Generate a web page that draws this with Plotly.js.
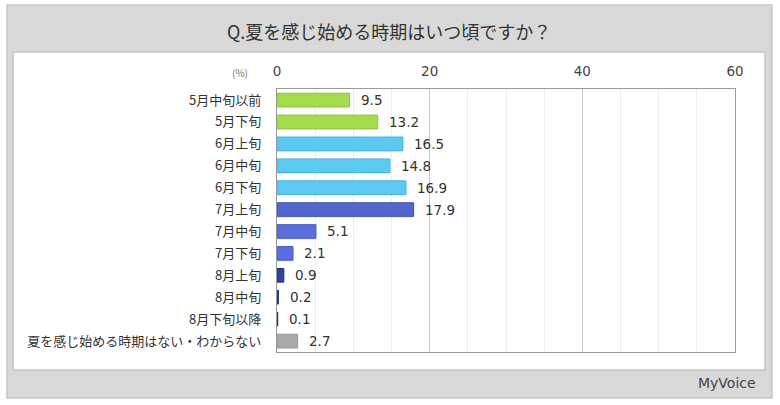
<!DOCTYPE html>
<html>
<head>
<meta charset="utf-8">
<script src="https://cdn.plot.ly/plotly-3.0.1.min.js"></script>
<style>html,body{margin:0;padding:0;background:#fff;}#chart{width:780px;height:405px;}</style>
</head>
<body>
<div id="chart"></div>
<script>
const categories = ["5月中旬以前","5月下旬","6月上旬","6月中旬","6月下旬","7月上旬","7月中旬","7月下旬","8月上旬","8月中旬","8月下旬以降","夏を感じ始める時期はない・わからない"];
const values = [9.5, 13.2, 16.5, 14.8, 16.9, 17.9, 5.1, 2.1, 0.9, 0.2, 0.1, 2.7];
const barColors = ["#a5dc4c","#a5dc4c","#5ec9f0","#5ec9f0","#5ec9f0","#5467cf","#5a6fdb","#5a6fdb","#33409c","#33409c","#33409c","#a9a9a9"];
const lineColors = ["#8cc63f","#8cc63f","#45b5e0","#45b5e0","#45b5e0","#3f50b0","#4358c4","#4358c4","#27337f","#27337f","#27337f","#979797"];
const xTicks = [0, 20, 40, 60];
const titleText = "Q.夏を感じ始める時期はいつ頃ですか？";
const unitText = "(%)";

const W = 780, H = 405;
const L = 277, R = 735, T = 89, B = 352;
const px = v => (v - L) / (R - L);
const py = v => (B - v) / (B - T);
const FONT = "Noto Sans CJK JP, Noto Sans, sans-serif";
const NUMFONT = "DejaVu Sans, Noto Sans, sans-serif";

const shadow = {
  type: "bar", orientation: "h", x: values, y: categories,
  marker: {color: "rgba(120,120,120,0.22)"},
  width: 0.62, offset: -0.25, hoverinfo: "skip", showlegend: false
};
const bars = {
  type: "bar", orientation: "h", x: values, y: categories,
  marker: {color: barColors, line: {color: lineColors, width: 1}},
  width: 0.62, hoverinfo: "skip", showlegend: false
};

const annotations = values.map((v, i) => ({
  x: v, y: categories[i], xref: "x", yref: "y",
  text: v.toFixed(1), showarrow: false, xanchor: "left", xshift: 9,
  font: {family: NUMFONT, size: 13.5, color: "#333"}
}));
annotations.push({
  x: px(389), y: py(31), xref: "paper", yref: "paper",
  text: titleText, showarrow: false, xanchor: "center", yanchor: "middle",
  font: {family: FONT, size: 18, color: "#333"}
});
annotations.push({
  x: px(250), y: py(72), xref: "paper", yref: "paper",
  text: unitText, showarrow: false, xanchor: "right", yanchor: "middle",
  font: {family: FONT, size: 10, color: "#777"}
});
annotations.push({
  x: px(758), y: py(383), xref: "paper", yref: "paper",
  text: "MyVoice", showarrow: false, xanchor: "right", yanchor: "middle",
  font: {family: "DejaVu Sans, sans-serif", size: 14, color: "#444"}
});

const shapes = [
  {type: "rect", xref: "paper", yref: "paper", x0: px(7), x1: px(772), y0: py(5), y1: py(398),
   fillcolor: "#d9d9d9", line: {color: "#c6c6c6", width: 1.5}, layer: "below"},
  {type: "rect", xref: "paper", yref: "paper", x0: px(13), x1: px(765), y0: py(52), y1: py(370),
   fillcolor: "#ffffff", line: {color: "#c4c4c4", width: 1.5}, layer: "below"}
];

const layout = {
  width: W, height: H,
  margin: {l: L, r: W - R, t: T, b: H - B, pad: 0},
  paper_bgcolor: "#ffffff", plot_bgcolor: "rgba(0,0,0,0)",
  barmode: "overlay", bargap: 0.38,
  font: {family: FONT, color: "#333"},
  xaxis: {
    range: [0, 60], side: "top", tickvals: xTicks, ticktext: xTicks.map(String),
    tickfont: {family: NUMFONT, size: 13.5, color: "#444"},
    showgrid: true, gridcolor: "#c8c8c8", gridwidth: 1,
    minor: {dtick: 5, showgrid: true, gridcolor: "#ececec", gridwidth: 1},
    showline: true, linecolor: "#9a9a9a", linewidth: 1.2, mirror: true,
    zeroline: false, ticks: "outside", ticklen: 6, tickcolor: "rgba(0,0,0,0)",
    fixedrange: true
  },
  yaxis: {
    type: "category", autorange: "reversed",
    tickfont: {family: FONT, size: 13, color: "#333"},
    showline: true, linecolor: "#9a9a9a", linewidth: 1.2, mirror: true,
    showgrid: false, zeroline: false,
    ticks: "outside", ticklen: 12, tickcolor: "rgba(0,0,0,0)",
    fixedrange: true
  },
  shapes: shapes,
  annotations: annotations
};

Plotly.newPlot("chart", [shadow, bars], layout, {staticPlot: true, displayModeBar: false});
</script>
</body>
</html>
